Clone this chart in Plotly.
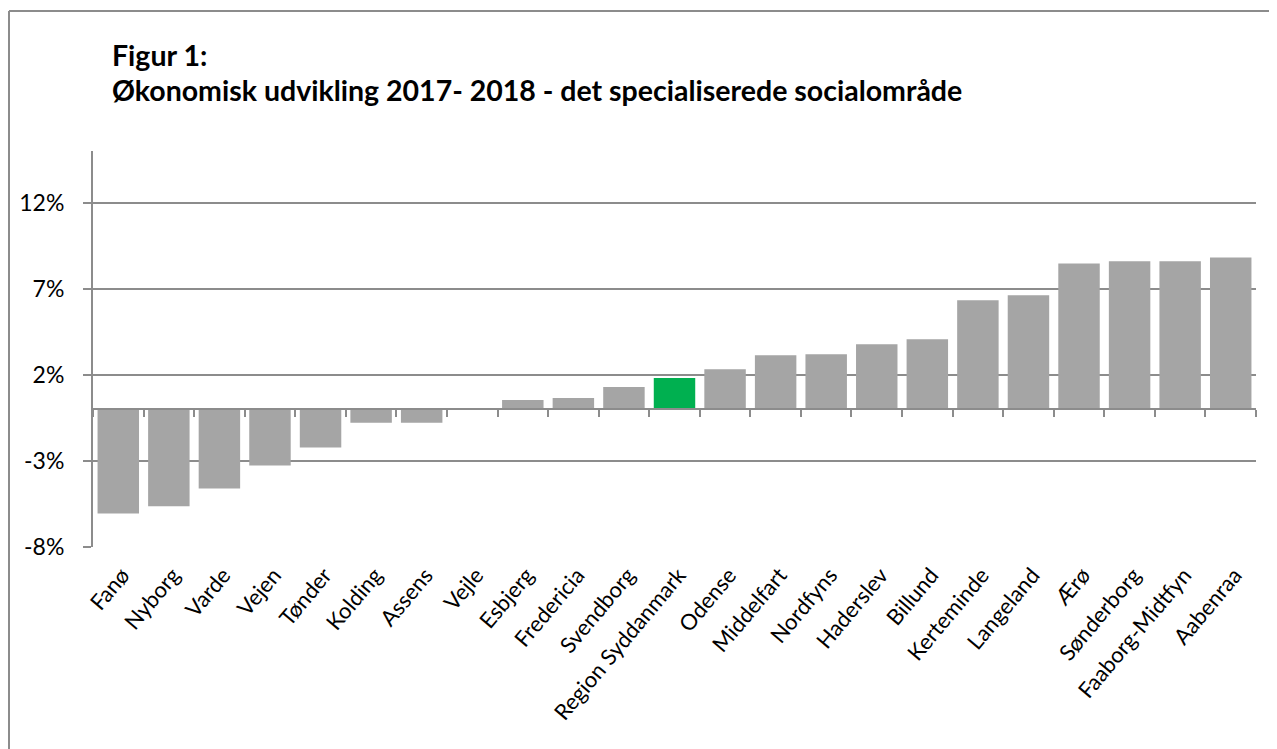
import plotly.graph_objects as go

categories = ["Fanø", "Nyborg", "Varde", "Vejen", "Tønder", "Kolding", "Assens", "Vejle",
              "Esbjerg", "Fredericia", "Svendborg", "Region Syddanmark", "Odense", "Middelfart",
              "Nordfyns", "Haderslev", "Billund", "Kerteminde", "Langeland", "Ærø",
              "Sønderborg", "Faaborg-Midtfyn", "Aabenraa"]
values = [-6.05, -5.64, -4.60, -3.27, -2.22, -0.78, -0.78, 0.0,
          0.54, 0.65, 1.29, 1.81, 2.33, 3.14, 3.20, 3.78, 4.07, 6.33, 6.62, 8.47,
          8.59, 8.59, 8.82]
highlight = "Region Syddanmark"
tick_vals = [-8, -3, 2, 7, 12]
tick_text = ["-8%", "-3%", "2%", "7%", "12%"]
title_line1 = "Figur 1:"
title_line2 = "Økonomisk udvikling 2017- 2018 - det specialiserede socialområde"

# page has an 8px body margin; work in window pixels and compensate
O = 8
WIN_W, WIN_H = 1277, 749
W, H = WIN_W - O, WIN_H - O
L, R, T, B = 93 - O, 21, 151 - O, 202
pw, ph = W - L - R, H - T - B

def px(xp):
    return (xp - O - L) / pw

def py(yp):
    return (H - B - (yp - O)) / ph

GRID = "#8c8c8c"
colors = ["#00B050" if c == highlight else "#A5A5A5" for c in categories]
xrange_ = [-0.5, len(categories) - 0.5]

fig = go.Figure()
fig.add_trace(go.Bar(x=categories, y=values, marker=dict(color=colors, line=dict(width=0)),
                     hoverinfo="x+y", showlegend=False))
fig.add_trace(go.Scatter(x=categories, y=[None] * len(categories), xaxis="x2", yaxis="y",
                         mode="lines", showlegend=False, hoverinfo="skip"))

ymin, ymax = -8, 15
fig.update_layout(
    width=W, height=H,
    margin=dict(l=L, r=R, t=T, b=B, autoexpand=False),
    paper_bgcolor="white", plot_bgcolor="white",
    bargap=0.18,
    font=dict(family="Lato, sans-serif", color="black"),
    xaxis=dict(type="category", range=xrange_, showgrid=False, showline=False, ticks="",
               tickangle=-50, tickfont=dict(size=22, color="black"), ticklabelstandoff=10,
               ticklabelshift=4, fixedrange=True),
    xaxis2=dict(type="category", range=xrange_, overlaying="x", anchor="free",
                position=(0 - ymin) / (ymax - ymin), side="bottom",
                showline=True, linecolor=GRID, linewidth=2,
                ticks="outside", tickson="boundaries", ticklen=7, tickwidth=2, tickcolor=GRID,
                showticklabels=False, showgrid=False, fixedrange=True),
    yaxis=dict(range=[ymin, ymax], tickvals=tick_vals, ticktext=tick_text,
               showgrid=True, gridcolor=GRID, gridwidth=2,
               zeroline=False, showline=True, linecolor=GRID, linewidth=2,
               ticks="outside", ticklen=8, tickwidth=2, tickcolor=GRID,
               tickfont=dict(size=23, color="black"), ticklabelstandoff=14),
    annotations=[
        dict(text="<b>" + title_line1 + "</b>", xref="paper", yref="paper",
             x=px(110), y=py(55), xanchor="left", yanchor="middle", showarrow=False,
             font=dict(size=28.5, family="Lato, sans-serif", color="black")),
        dict(text="<b>" + title_line2 + "</b>", xref="paper", yref="paper",
             x=px(110), y=py(90), xanchor="left", yanchor="middle", showarrow=False,
             font=dict(size=28.5, family="Lato, sans-serif", color="black")),
    ],
    shapes=[
        dict(type="line", xref="paper", yref="paper", x0=px(9), x1=px(WIN_W + 5),
             y0=py(11), y1=py(11), line=dict(color="#8c8c8c", width=2)),
        dict(type="line", xref="paper", yref="paper", x0=px(9), x1=px(9),
             y0=py(11), y1=py(WIN_H + 5), line=dict(color="#8c8c8c", width=2)),
    ],
)

fig.write_html("out.html")
